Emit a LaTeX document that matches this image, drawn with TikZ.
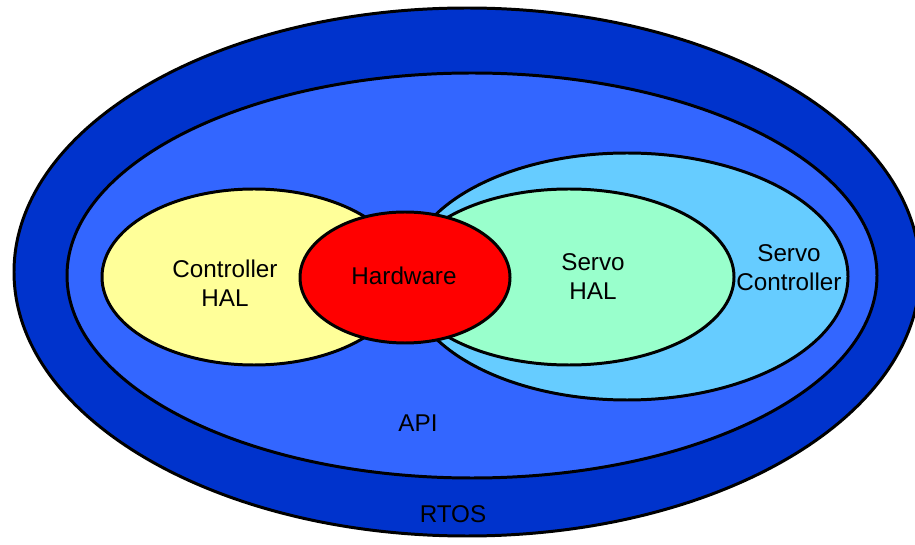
\documentclass[tikz,border=0pt]{standalone}
\usepackage{xcolor}
\usepackage{fontspec}
\setmainfont{Liberation Sans}
\usepackage{tikz}

\definecolor{rtosblue}{HTML}{0033CC}
\definecolor{apiblue}{HTML}{3366FF}
\definecolor{servoblue}{HTML}{66CCFF}
\definecolor{servogreen}{HTML}{99FFCC}
\definecolor{halyellow}{HTML}{FFFF99}
\definecolor{hwred}{HTML}{FF0000}

\begin{document}
\begin{tikzpicture}[layer/.style={draw=black,line width=1.7pt},
  lbl/.style={align=center,font=\fontsize{13.8}{16.5}\selectfont}]
  \useasboundingbox (0,0) rectangle (18.3,10.88);
  \clip (0,0) rectangle (18.3,10.88);
  \fill[white] (0,0) rectangle (18.3,10.88);
  \filldraw[layer,fill=rtosblue] (9.34,5.44) ellipse (9.06 and 5.28);
  \filldraw[layer,fill=apiblue] (9.44,5.37) ellipse (8.10 and 4.05);
  \filldraw[layer,fill=servoblue] (12.54,5.35) ellipse (4.42 and 2.47);
  \filldraw[layer,fill=servogreen] (11.38,5.34) ellipse (3.30 and 1.76);
  \filldraw[layer,fill=halyellow] (5.08,5.34) ellipse (3.04 and 1.76);
  \filldraw[layer,fill=hwred] (8.10,5.33) ellipse (2.10 and 1.31);
  \node[lbl] (ctrlhal) at (4.50,5.22) {Controller\\HAL};
  \node[lbl] (hw) at (8.08,5.36) {Hardware};
  \node[lbl] (servohal) at (11.86,5.34) {Servo\\HAL};
  \node[lbl] (servoctrl) at (15.78,5.52) {Servo\\Controller};
  \node[lbl] (api) at (8.36,2.42) {API};
  \node[lbl] (rtos) at (9.06,0.60) {RTOS};
\end{tikzpicture}
\end{document}
